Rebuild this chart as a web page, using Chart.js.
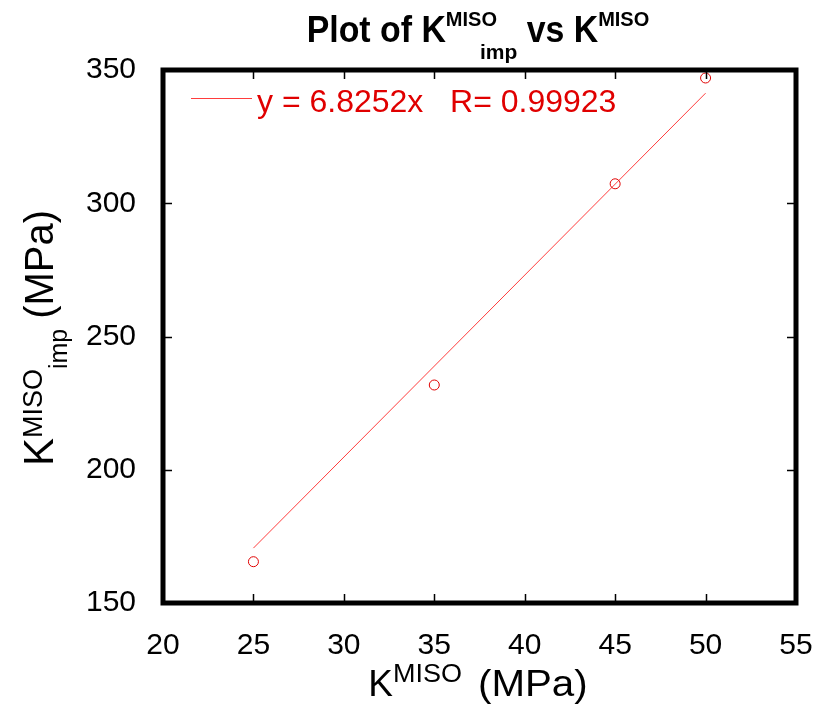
<!DOCTYPE html>
<html>
<head>
<meta charset="utf-8">
<script src="https://cdn.jsdelivr.net/npm/chart.js@4.4.0/dist/chart.umd.min.js"></script>
<style>
  html, body { margin: 0; padding: 0; background: #fff; }
  #wrap { width: 817px; height: 711px; position: relative; }
</style>
</head>
<body>
<div id="wrap"><canvas id="myChart"></canvas></div>
<script>
// data
const kMiso = [25, 35, 45, 50];
const kImp = [165.5, 231.8, 307.3, 347];
// fit line y = 6.8252x, end points
const fitX = [25, 50];
const fitY = [170.6, 341.3];
const xTicks = [20, 25, 30, 35, 40, 45, 50, 55];
const yTicks = [150, 200, 250, 300, 350];
const legendText = "y = 6.8252x   R= 0.99923";

const SANS = "'Liberation Sans', Arial, sans-serif";
const RED = "#e00000";

// text made of parts (super/subscripts), sx = horizontal stretch
function partWidth(ctx, p) {
  ctx.font = p.font;
  return ctx.measureText(p.t).width * (p.sx || 1);
}
function drawRich(ctx, parts, x, y) {
  let w = 0;
  for (const p of parts) w += partWidth(ctx, p) + (p.dx || 0);
  let cx = x - w / 2;
  ctx.textAlign = "left";
  ctx.textBaseline = "alphabetic";
  for (const p of parts) {
    cx += p.dx || 0;
    ctx.save();
    ctx.font = p.font;
    ctx.translate(cx, y + (p.dy || 0));
    ctx.scale(p.sx || 1, 1);
    ctx.fillText(p.t, 0, 0);
    ctx.restore();
    cx += partWidth(ctx, p);
  }
}

const framePlugin = {
  id: "frame",
  afterDraw(chart) {
    const ctx = chart.ctx;
    const a = chart.chartArea;
    const xs = chart.scales.x, ys = chart.scales.y;
    ctx.save();
    ctx.fillStyle = "#000";
    ctx.strokeStyle = "#000";

    // inward tick marks
    ctx.lineWidth = 1.5;
    ctx.beginPath();
    for (const v of xTicks.slice(1, -1)) {
      const px = Math.round(xs.getPixelForValue(v)) + 0.5;
      ctx.moveTo(px, a.bottom); ctx.lineTo(px, a.bottom - 9);
      ctx.moveTo(px, a.top); ctx.lineTo(px, a.top + 9);
    }
    for (const v of yTicks.slice(1, -1)) {
      const py = Math.round(ys.getPixelForValue(v)) + 0.5;
      ctx.moveTo(a.left, py); ctx.lineTo(a.left + 9, py);
      ctx.moveTo(a.right, py); ctx.lineTo(a.right - 9, py);
    }
    ctx.stroke();

    // thick box
    ctx.lineWidth = 5;
    ctx.strokeRect(a.left, a.top, a.right - a.left, a.bottom - a.top);

    // legend
    ctx.strokeStyle = "rgba(255,40,40,0.9)";
    ctx.lineWidth = 1;
    ctx.beginPath();
    ctx.moveTo(a.left + 28, a.top + 28.5);
    ctx.lineTo(a.left + 89, a.top + 28.5);
    ctx.stroke();
    ctx.fillStyle = RED;
    ctx.font = "32px " + SANS;
    ctx.textAlign = "left";
    ctx.textBaseline = "alphabetic";
    ctx.fillText(legendText, a.left + 94, a.top + 42);

    // titles
    ctx.fillStyle = "#000";
    drawRich(ctx, [
      { t: "Plot of K", font: "bold 36px " + SANS, sx: 0.94 },
      { t: "MISO", font: "bold 20px " + SANS, dy: -16 },
      { t: "imp", font: "bold 21px " + SANS, dy: 17, dx: -17 },
      { t: " vs K", font: "bold 36px " + SANS, sx: 0.94 },
      { t: "MISO", font: "bold 20px " + SANS, dy: -16 }
    ], 478, 42);

    drawRich(ctx, [
      { t: "K", font: "37px " + SANS },
      { t: "MISO", font: "25px " + SANS, sx: 1.08, dy: -14 },
      { t: "(MPa)", font: "36px " + SANS, sx: 1.12, dx: 16 }
    ], 478, 696);

    ctx.save();
    ctx.translate(53, 338);
    ctx.rotate(-Math.PI / 2);
    drawRich(ctx, [
      { t: "K", font: "42px " + SANS },
      { t: "MISO", font: "27px " + SANS, dy: -11 },
      { t: "imp", font: "25px " + SANS, dy: 14, dx: 0 },
      { t: "(MPa)", font: "40px " + SANS, dx: 10 }
    ], 0, 0);
    ctx.restore();

    ctx.restore();
  }
};

const ctx = document.getElementById("myChart").getContext("2d");
const myChart = new Chart(ctx, {
  type: "scatter",
  data: {
    datasets: [
      {
        label: "data",
        data: kMiso.map((x, i) => ({ x: x, y: kImp[i] })),
        showLine: false,
        pointStyle: "circle",
        pointRadius: 5,
        pointBorderWidth: 1,
        pointBackgroundColor: "rgba(0,0,0,0)",
        pointBorderColor: RED,
      },
      {
        label: "fit",
        data: fitX.map((x, i) => ({ x: x, y: fitY[i] })),
        showLine: true,
        borderColor: "rgba(255,40,40,0.9)",
        borderWidth: 1,
        pointRadius: 0,
      },
    ],
  },
  options: {
    responsive: true,
    maintainAspectRatio: false,
    animation: false,
    layout: { padding: { top: 70, right: 21, left: 0, bottom: 0 } },
    plugins: {
      legend: { display: false },
      title: { display: false },
      tooltip: { enabled: false },
    },
    scales: {
      x: {
        type: "linear",
        min: xTicks[0],
        max: xTicks[xTicks.length - 1],
        afterBuildTicks: (s) => { s.ticks = xTicks.map((v) => ({ value: v })); },
        afterFit: (s) => { s.height = 108; s.paddingLeft = 0; s.paddingRight = 0; },
        grid: { display: false },
        border: { display: false },
        ticks: {
          color: "#000",
          padding: 17,
          maxRotation: 0,
          autoSkip: false,
          font: { family: SANS, size: 30 },
        },
      },
      y: {
        type: "linear",
        min: yTicks[0],
        max: yTicks[yTicks.length - 1],
        afterBuildTicks: (s) => { s.ticks = yTicks.map((v) => ({ value: v })); },
        afterFit: (s) => { s.width = 163; s.paddingTop = 0; s.paddingBottom = 0; },
        grid: { display: false },
        border: { display: false },
        ticks: {
          color: "#000",
          padding: 19,
          autoSkip: false,
          font: { family: SANS, size: 30 },
        },
      },
    },
  },
  plugins: [framePlugin],
});
</script>
</body>
</html>
